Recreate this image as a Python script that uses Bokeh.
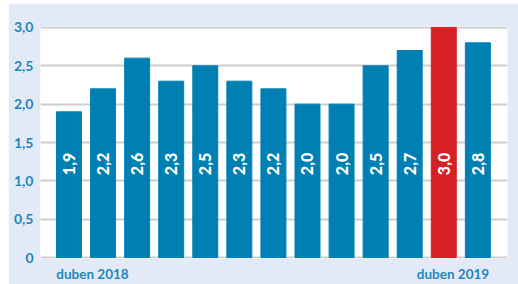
import math
from bokeh.plotting import figure
from bokeh.models import Range1d, FixedTicker, ColumnDataSource, Spacer
from bokeh.layouts import column, row
from bokeh.embed import file_html
from bokeh.resources import INLINE
from bokeh.core.properties import value

# ---- data ----
months = list(range(13))
values = [1.9, 2.2, 2.6, 2.3, 2.5, 2.3, 2.2, 2.0, 2.0, 2.5, 2.7, 3.0, 2.8]
value_labels = ["1,9", "2,2", "2,6", "2,3", "2,5", "2,3", "2,2", "2,0", "2,0", "2,5", "2,7", "3,0", "2,8"]
highlight = [False] * 11 + [True] + [False]
y_ticks = [0, 0.5, 1.0, 1.5, 2.0, 2.5, 3.0]
y_tick_labels = ["0", "0,5", "1,0", "1,5", "2,0", "2,5", "3,0"]
x_labels = ["duben 2018", "duben 2019"]
x_label_idx = [0, 12]

BLUE = "#0080b2"
RED = "#d71f26"
BG = "#e1eaf6"
TXT = "#1f86bd"
FONT = "Lato"
BAR_W = 0.733

colors = [RED if h else BLUE for h in highlight]
src = ColumnDataSource(dict(x=months, top=values, color=colors, label=value_labels,
                            ly=[1.22] * len(months)))

p = figure(width=510, height=281, output_backend="svg", toolbar_location=None,
           x_range=Range1d(-0.836, 12.87), y_range=Range1d(-0.0128, 3.0128),
           min_border_left=32, min_border_right=11, min_border_top=23, min_border_bottom=21)
p.background_fill_color = "white"
p.border_fill_color = BG
p.outline_line_color = None

p.vbar(x="x", top="top", width=BAR_W, bottom=0, color="color", source=src)
p.text(x="x", y="ly", text="label", source=src, angle=math.pi / 2,
       text_align="center", text_baseline="middle", text_color="white",
       text_font=value("Lato Black"), text_font_style="normal", text_font_size="16px")

# x labels: left one starts at first bar's left edge, right one ends at last bar's right edge
x_offsets = [0.69, -0.73]
x_tick_pos = [i + o for i, o in zip(x_label_idx, x_offsets)]
xa = p.xaxis[0]
xa.ticker = FixedTicker(ticks=x_tick_pos)
xa.major_label_overrides = {t: l for t, l in zip(x_tick_pos, x_labels)}
xa.axis_line_color = None
xa.major_tick_line_color = None
xa.minor_tick_line_color = None
xa.major_tick_out = 0
xa.major_label_standoff = 7
xa.major_label_text_font = FONT
xa.major_label_text_font_style = "bold"
xa.major_label_text_font_size = "13.5px"
xa.major_label_text_color = TXT

p.xgrid.visible = False
p.ygrid.ticker = FixedTicker(ticks=y_ticks)
p.ygrid.grid_line_color = "#cdcdcd"
p.ygrid.grid_line_width = 2

ax = p.yaxis[0]
ax.ticker = FixedTicker(ticks=y_ticks)
ax.major_label_overrides = {t: l for t, l in zip(y_ticks, y_tick_labels)}
ax.axis_line_color = None
ax.major_tick_line_color = None
ax.minor_tick_line_color = None
ax.major_tick_out = 0
ax.major_label_standoff = 7
ax.major_label_text_font = FONT
ax.major_label_text_font_style = "bold"
ax.major_label_text_font_size = "14px"
ax.major_label_text_color = TXT

layout = column(Spacer(height=3), row(Spacer(width=8), p))
open("out.html", "w").write(file_html(layout, INLINE))
